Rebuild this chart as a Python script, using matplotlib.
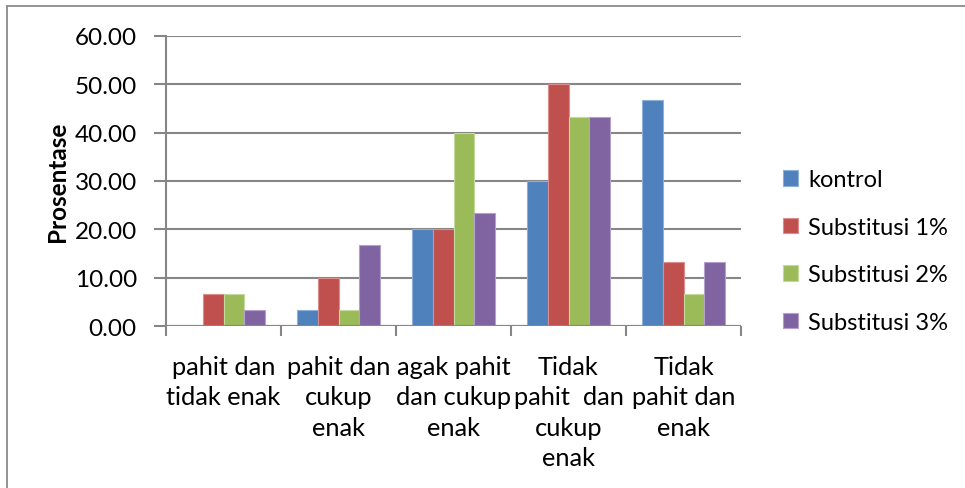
import numpy as np
import matplotlib
matplotlib.use("Agg")
import matplotlib.pyplot as plt
from matplotlib.patches import Rectangle

categories = ["pahit dan\ntidak enak", "pahit dan\ncukup\nenak", "agak pahit\ndan cukup\nenak",
              "Tidak\npahit  dan\ncukup\nenak", "Tidak\npahit dan\nenak"]
series_names = ["kontrol", "Substitusi 1%", "Substitusi 2%", "Substitusi 3%"]
kontrol = [0.00, 3.33, 20.00, 30.00, 46.67]
subst_1 = [6.67, 10.00, 20.00, 50.00, 13.33]
subst_2 = [6.67, 3.33, 40.00, 43.33, 6.67]
subst_3 = [3.33, 16.67, 23.33, 43.33, 13.33]
colors = ["#4f81bd", "#c0504d", "#9bbb59", "#8064a2"]
edges = ["#8eb0da", "#dc8e8c", "#c3d99e", "#b3a1cb"]

plt.rcParams["font.family"] = ["Lato", "DejaVu Sans"]

fig = plt.figure(figsize=(9.65, 4.89), dpi=100)
ax = fig.add_axes([166 / 965, 1 - 327 / 489, 575 / 965, 290 / 489])

# outer chart border (only left and top visible in the crop)
fig.patches.append(Rectangle((7 / 965, -0.1), 1.2, 1 - 7 / 489 + 0.1, transform=fig.transFigure,
                             fill=False, edgecolor="#8a8a8a", lw=1.3))

n = len(series_names)
w = 1 / (n + 1.5)
x = np.arange(len(categories))
for i, (vals, name) in enumerate(zip([kontrol, subst_1, subst_2, subst_3], series_names)):
    ax.bar(x - 2 * w + (i + 0.5) * w, vals, width=w, color=colors[i], edgecolor=edges[i],
           linewidth=0.8, label=name, zorder=3)

ax.set_xlim(-0.5, len(categories) - 0.5)
ax.set_ylim(0, 60)
ax.set_yticks(np.arange(0, 61, 10))
ax.set_yticklabels([f"{v:.2f}" for v in np.arange(0, 61, 10)], fontsize=17.5)
ax.yaxis.grid(True, color="#868686", lw=1.5, zorder=0)
ax.set_xticks(np.arange(-0.5, len(categories), 1.0))
ax.set_xticklabels([])
ax.set_xticks(x, minor=True)
ax.set_xticklabels(categories, minor=True, fontsize=18.3, linespacing=1.38)
ax.tick_params(axis="x", which="minor", length=0, pad=21)
ax.tick_params(axis="x", which="major", length=7, width=1.5, color="#868686")
ax.tick_params(axis="y", length=9, width=1.5, color="#868686", pad=12)
for s in ["top", "right", "bottom"]:
    ax.spines[s].set_visible(False)
ax.spines["left"].set_color("#868686")
ax.spines["left"].set_linewidth(1.5)
ax.axhline(0, color="#868686", lw=1.5, zorder=4)

ax.set_ylabel("Prosentase", fontsize=17.5, fontweight="bold", labelpad=4)

fig.legend(loc="center left", bbox_to_anchor=(783 / 965, 1 - 252 / 489), frameon=False,
           borderpad=0, borderaxespad=0, fontsize=17, handlelength=0.62, handleheight=0.62,
           handletextpad=0.45, labelspacing=1.12)

fig.savefig("out.png", dpi=100)
